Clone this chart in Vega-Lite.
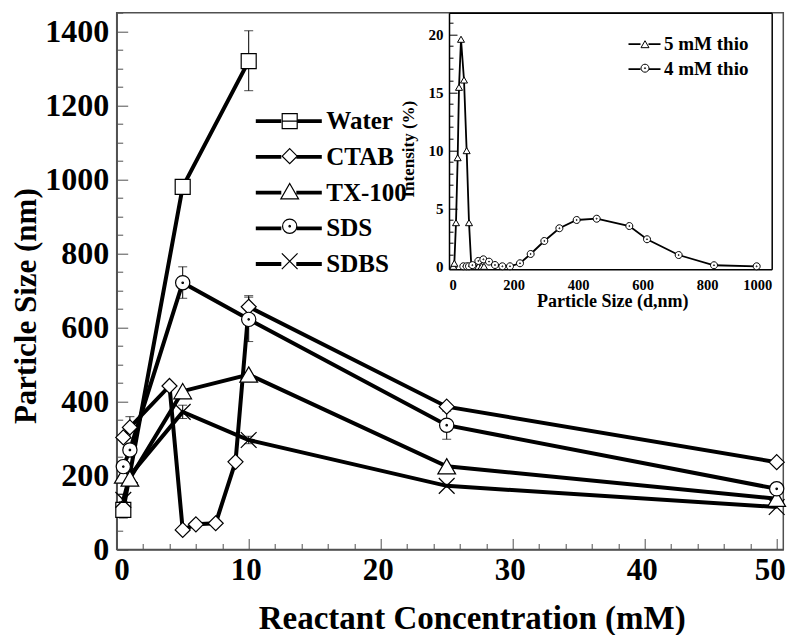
{
  "$schema": "https://vega.github.io/schema/vega-lite/v6.json",
  "width": 666.6,
  "height": 536.8,
  "autosize": {"type": "none"},
  "padding": {"left": 116.7, "top": 12.7, "right": 7.7, "bottom": 85.5},
  "background": "white",
  "config": {
    "font": "Liberation Serif",
    "view": {"stroke": "#505050", "strokeWidth": 1.5},
    "axis": {
      "grid": false,
      "labelFont": "Liberation Serif",
      "labelFontWeight": "bold",
      "labelColor": "black",
      "titleFont": "Liberation Serif",
      "titleFontWeight": "bold",
      "titleColor": "black",
      "domainColor": "#505050",
      "domainWidth": 1.5,
      "tickColor": "#505050",
      "tickWidth": 1
    },
    "legend": {
      "labelFont": "Liberation Serif",
      "labelFontWeight": "bold",
      "labelColor": "black",
      "padding": 0
    }
  },
  "datasets": {
    "main": [
      {"s": "Water", "x": 0.5, "y": 107},
      {"s": "Water", "x": 5, "y": 980},
      {"s": "Water", "x": 10, "y": 1320},
      {"s": "SDBS", "x": 0.5, "y": 134},
      {"s": "SDBS", "x": 1, "y": 200},
      {"s": "SDBS", "x": 5, "y": 372},
      {"s": "SDBS", "x": 10, "y": 296},
      {"s": "SDBS", "x": 25, "y": 172},
      {"s": "SDBS", "x": 50, "y": 115},
      {"s": "CTAB", "x": 0.5, "y": 303},
      {"s": "CTAB", "x": 1, "y": 330},
      {"s": "CTAB", "x": 4, "y": 442},
      {"s": "CTAB", "x": 5, "y": 53},
      {"s": "CTAB", "x": 6, "y": 68},
      {"s": "CTAB", "x": 7.5, "y": 71},
      {"s": "CTAB", "x": 9, "y": 237},
      {"s": "CTAB", "x": 10, "y": 656},
      {"s": "CTAB", "x": 25, "y": 386},
      {"s": "CTAB", "x": 50, "y": 236},
      {"s": "TX-100", "x": 0.5, "y": 200},
      {"s": "TX-100", "x": 1, "y": 192},
      {"s": "TX-100", "x": 5, "y": 428},
      {"s": "TX-100", "x": 10, "y": 473},
      {"s": "TX-100", "x": 25, "y": 225},
      {"s": "TX-100", "x": 50, "y": 137},
      {"s": "SDS", "x": 0.5, "y": 224},
      {"s": "SDS", "x": 1, "y": 269},
      {"s": "SDS", "x": 5, "y": 721},
      {"s": "SDS", "x": 10, "y": 622},
      {"s": "SDS", "x": 25, "y": 336},
      {"s": "SDS", "x": 50, "y": 164}
    ],
    "err": [
      {"s": "Water", "x": 0.5, "lo": 85, "hi": 129},
      {"s": "Water", "x": 5, "lo": 962, "hi": 998},
      {"s": "Water", "x": 10, "lo": 1240, "hi": 1402},
      {"s": "CTAB", "x": 1, "lo": 301, "hi": 359},
      {"s": "CTAB", "x": 10, "lo": 626, "hi": 686},
      {"s": "SDS", "x": 5, "lo": 679, "hi": 764},
      {"s": "SDS", "x": 10, "lo": 562, "hi": 682},
      {"s": "SDS", "x": 25, "lo": 298, "hi": 374},
      {"s": "SDBS", "x": 0.5, "lo": 119, "hi": 149},
      {"s": "SDBS", "x": 5, "lo": 354, "hi": 390},
      {"s": "SDBS", "x": 10, "lo": 286, "hi": 306}
    ],
    "inset": [
      {"sample": "5 mM thio", "d": 13.4, "i": 0},
      {"sample": "5 mM thio", "d": 16.5, "i": 0.26},
      {"sample": "5 mM thio", "d": 21.7, "i": 3.76},
      {"sample": "5 mM thio", "d": 26.9, "i": 9.36},
      {"sample": "5 mM thio", "d": 31.0, "i": 15.43},
      {"sample": "5 mM thio", "d": 37.2, "i": 19.57},
      {"sample": "5 mM thio", "d": 46.5, "i": 16.06},
      {"sample": "5 mM thio", "d": 54.7, "i": 9.97},
      {"sample": "5 mM thio", "d": 62.0, "i": 3.76},
      {"sample": "5 mM thio", "d": 69.2, "i": 0},
      {"sample": "5 mM thio", "d": 80.6, "i": 0},
      {"sample": "5 mM thio", "d": 90.9, "i": 0},
      {"sample": "5 mM thio", "d": 101, "i": 0},
      {"sample": "5 mM thio", "d": 108.5, "i": 0},
      {"sample": "4 mM thio", "d": 44.4, "i": 0},
      {"sample": "4 mM thio", "d": 54.7, "i": 0},
      {"sample": "4 mM thio", "d": 62.0, "i": 0},
      {"sample": "4 mM thio", "d": 72.3, "i": 0.1},
      {"sample": "4 mM thio", "d": 90.9, "i": 0.46},
      {"sample": "4 mM thio", "d": 106.4, "i": 0.6},
      {"sample": "4 mM thio", "d": 124, "i": 0.4},
      {"sample": "4 mM thio", "d": 142.5, "i": 0.11},
      {"sample": "4 mM thio", "d": 165.3, "i": 0},
      {"sample": "4 mM thio", "d": 189, "i": 0},
      {"sample": "4 mM thio", "d": 220, "i": 0.26},
      {"sample": "4 mM thio", "d": 253, "i": 1.06},
      {"sample": "4 mM thio", "d": 295.4, "i": 2.18},
      {"sample": "4 mM thio", "d": 342, "i": 3.28},
      {"sample": "4 mM thio", "d": 395.6, "i": 3.99},
      {"sample": "4 mM thio", "d": 457.6, "i": 4.1},
      {"sample": "4 mM thio", "d": 558.8, "i": 3.47},
      {"sample": "4 mM thio", "d": 613.6, "i": 2.33},
      {"sample": "4 mM thio", "d": 711.7, "i": 0.97},
      {"sample": "4 mM thio", "d": 821.2, "i": 0.09},
      {"sample": "4 mM thio", "d": 953.4, "i": 0}
    ]
  },
  "layer": [
    {
      "data": {"name": "err"},
      "mark": {"type": "errorbar", "ticks": {"size": 9, "color": "black"}, "rule": {"color": "black", "strokeWidth": 1}},
      "encoding": {
        "x": {"field": "x", "type": "quantitative", "scale": {"domain": [0, 50.5], "nice": false, "zero": false},
              "axis": {"orient": "bottom", "values": [2,4,6,8,12,14,16,18,22,24,26,28,32,34,36,38,42,44,46,48], "tickSize": -6, "labels": false, "domain": false, "title": null}},
        "y": {"field": "lo", "type": "quantitative", "scale": {"domain": [0, 1450.8], "nice": false, "zero": false},
              "axis": {"orient": "left", "values": [50,100,150,250,300,350,450,500,550,650,700,750,850,900,950,1050,1100,1150,1250,1300,1350,1450], "tickSize": -6, "labels": false, "domain": false, "title": null}},
        "y2": {"field": "hi"}
      }
    },
    {
      "data": {"name": "main"},
      "mark": {"type": "line", "strokeWidth": 4},
      "encoding": {
        "x": {"field": "x", "type": "quantitative", "scale": {"domain": [0, 50.5], "nice": false, "zero": false},
              "axis": {"orient": "bottom", "values": [0,10,20,30,40,50], "tickSize": -11, "labels": false, "domain": false, "title": null}},
        "y": {"field": "y", "type": "quantitative", "scale": {"domain": [0, 1450.8], "nice": false, "zero": false},
              "axis": {"orient": "left", "values": [0,200,400,600,800,1000,1200,1400], "tickSize": -11, "labels": false, "domain": false, "title": null}},
        "color": {"field": "s", "type": "nominal",
                  "scale": {"domain": ["Water", "CTAB", "TX-100", "SDS", "SDBS"], "range": ["black", "black", "black", "black", "black"]},
                  "legend": {"orient": "none", "legendX": 159.6, "legendY": 96, "title": null,
                             "symbolType": "M-4.4,0H-1M1,0H4.4", "symbolSize": 225, "symbolStrokeWidth": 3.8,
                             "symbolStrokeColor": "black", "labelFontSize": 25, "labelOffset": 25, "rowPadding": 9.7}}
      }
    },
    {
      "data": {"name": "main"},
      "mark": {"type": "point", "filled": false, "fill": "white", "fillOpacity": 1, "stroke": "black", "strokeWidth": 1.2, "opacity": 1, "size": 225},
      "encoding": {
        "x": {"field": "x", "type": "quantitative", "scale": {"domain": [0, 50.5], "nice": false, "zero": false},
              "axis": {"orient": "bottom", "values": [0,10,20,30,40,50], "ticks": false, "labelFontSize": 31, "labelPadding": 6, "format": "d",
                       "labelOffset": {"condition": {"test": "datum.value === 50", "value": -7}, "value": -3},
                       "title": "Reactant Concentration (mM)", "titleFontSize": 33, "titleBaseline": "alphabetic", "titleX": 355, "titleY": 78.5}},
        "y": {"field": "y", "type": "quantitative", "scale": {"domain": [0, 1450.8], "nice": false, "zero": false},
              "axis": {"orient": "left", "values": [0,200,400,600,800,1000,1200,1400], "ticks": false, "labelFontSize": 32, "labelPadding": 8, "format": "d",
                       "title": "Particle Size (nm)", "titleFontSize": 31, "titleBaseline": "alphabetic", "titleAngle": -90, "titleX": -81, "titleY": 293}},
        "shape": {"field": "s", "type": "nominal",
                  "scale": {"domain": ["SDBS", "SDS", "TX-100", "CTAB", "Water"],
                            "range": ["M-1.05,-1.05L1.05,1.05M-1.05,1.05L1.05,-1.05",
                                      "M0.95,0A0.95,0.95 0 1,1 -0.95,0A0.95,0.95 0 1,1 0.95,0Z M0.1,0A0.1,0.1 0 1,1 -0.1,0A0.1,0.1 0 1,1 0.1,0Z",
                                      "M0,-1.02L1.18,1.02L-1.18,1.02Z",
                                      "M0,-1L1,0L0,1L-1,0Z",
                                      "M-1,-1L1,-1L1,1L-1,1Z"]},
                  "legend": null}
      }
    },
    {
      "data": {"name": "main"}, "transform": [{"filter": "false"}],
      "mark": {"type": "line"},
      "encoding": {
        "x": {"field": "x", "type": "quantitative", "axis": null}, "y": {"field": "y", "type": "quantitative", "axis": null},
        "color": {"field": "s", "type": "nominal", "scale": {"domain": ["Water"], "range": ["black"]},
                  "legend": {"orient": "none", "legendX": 160.5, "legendY": 96, "title": null, "symbolType": "M-1,-1L1,-1L1,1L-1,1Z M-1,0H1",
                             "symbolSize": 225, "symbolStrokeWidth": 1.2, "symbolStrokeColor": "black", "symbolFillColor": "white",
                             "labelFontSize": 25, "labelOffset": 25, "labelExpr": "''"}}
      }
    },
    {
      "data": {"name": "main"}, "transform": [{"filter": "false"}],
      "mark": {"type": "line"},
      "encoding": {
        "x": {"field": "x", "type": "quantitative", "axis": null}, "y": {"field": "y", "type": "quantitative", "axis": null},
        "color": {"field": "s", "type": "nominal", "scale": {"domain": ["CTAB"], "range": ["black"]},
                  "legend": {"orient": "none", "legendX": 160.5, "legendY": 131, "title": null, "symbolType": "M0,-1L1,0L0,1L-1,0Z",
                             "symbolSize": 225, "symbolStrokeWidth": 1.2, "symbolStrokeColor": "black", "symbolFillColor": "white",
                             "labelFontSize": 25, "labelOffset": 25, "labelExpr": "''"}}
      }
    },
    {
      "data": {"name": "main"}, "transform": [{"filter": "false"}],
      "mark": {"type": "line"},
      "encoding": {
        "x": {"field": "x", "type": "quantitative", "axis": null}, "y": {"field": "y", "type": "quantitative", "axis": null},
        "color": {"field": "s", "type": "nominal", "scale": {"domain": ["TX-100"], "range": ["black"]},
                  "legend": {"orient": "none", "legendX": 160.5, "legendY": 166, "title": null, "symbolType": "M0,-1.02L1.18,1.02L-1.18,1.02Z",
                             "symbolSize": 225, "symbolStrokeWidth": 1.2, "symbolStrokeColor": "black", "symbolFillColor": "white",
                             "labelFontSize": 25, "labelOffset": 25, "labelExpr": "''"}}
      }
    },
    {
      "data": {"name": "main"}, "transform": [{"filter": "false"}],
      "mark": {"type": "line"},
      "encoding": {
        "x": {"field": "x", "type": "quantitative", "axis": null}, "y": {"field": "y", "type": "quantitative", "axis": null},
        "color": {"field": "s", "type": "nominal", "scale": {"domain": ["SDS"], "range": ["black"]},
                  "legend": {"orient": "none", "legendX": 160.5, "legendY": 201, "title": null,
                             "symbolType": "M0.95,0A0.95,0.95 0 1,1 -0.95,0A0.95,0.95 0 1,1 0.95,0Z M0.1,0A0.1,0.1 0 1,1 -0.1,0A0.1,0.1 0 1,1 0.1,0Z",
                             "symbolSize": 225, "symbolStrokeWidth": 1.2, "symbolStrokeColor": "black", "symbolFillColor": "white",
                             "labelFontSize": 25, "labelOffset": 25, "labelExpr": "''"}}
      }
    },
    {
      "data": {"name": "main"}, "transform": [{"filter": "false"}],
      "mark": {"type": "line"},
      "encoding": {
        "x": {"field": "x", "type": "quantitative", "axis": null}, "y": {"field": "y", "type": "quantitative", "axis": null},
        "color": {"field": "s", "type": "nominal", "scale": {"domain": ["SDBS"], "range": ["black"]},
                  "legend": {"orient": "none", "legendX": 160.5, "legendY": 236, "title": null, "symbolType": "M-1.05,-1.05L1.05,1.05M-1.05,1.05L1.05,-1.05",
                             "symbolSize": 225, "symbolStrokeWidth": 1.2, "symbolStrokeColor": "black", "symbolFillColor": "white",
                             "labelFontSize": 25, "labelOffset": 25, "labelExpr": "''"}}
      }
    },
    {
      "data": {"name": "inset"},
      "mark": {"type": "line", "strokeWidth": 1.8},
      "encoding": {
        "x": {"field": "d", "type": "quantitative", "scale": {"domain": [0, 1000], "range": [332.3, 655], "nice": false, "zero": false},
              "axis": {"orient": "bottom", "offset": -280.2, "values": [0,200,400,600,800,1000], "ticks": false, "labelFontSize": 14.5, "labelPadding": 9, "format": "d",
                       "domainColor": "black", "domainWidth": 1.5,
                       "title": "Particle Size (d,nm)", "titleFontSize": 18, "titleBaseline": "alphabetic", "titleX": 495.6, "titleY": 37.5}},
        "y": {"field": "i", "type": "quantitative", "scale": {"domain": [-0.26, 21.86], "range": [256.6, 0], "nice": false, "zero": false},
              "axis": {"orient": "left", "offset": -332.3, "values": [0,5,10,15,20], "ticks": false, "labelFontSize": 15, "labelPadding": 6,
                       "domainColor": "black", "domainWidth": 1.5,
                       "title": "Intensity (%)", "titleFontSize": 17, "titleBaseline": "alphabetic", "titleAngle": -90, "titleX": -36, "titleY": 136}},
        "color": {"field": "sample", "type": "nominal",
                  "scale": {"domain": ["5 mM thio", "4 mM thio"], "range": ["black", "black"]},
                  "legend": {"orient": "none", "legendX": 518.3, "legendY": 22, "title": null,
                             "symbolType": "M-4,0H-1M1,0H4", "symbolSize": 64, "symbolStrokeWidth": 1.8, "symbolStrokeColor": "black",
                             "labelFontSize": 19, "labelOffset": 10, "rowPadding": 5}}
      }
    },
    {
      "data": {"name": "inset"},
      "mark": {"type": "point", "filled": false, "fill": "white", "fillOpacity": 1, "stroke": "black", "strokeWidth": 1, "size": 49, "opacity": 1},
      "encoding": {
        "x": {"field": "d", "type": "quantitative", "scale": {"domain": [0, 1000], "range": [332.3, 655], "nice": false, "zero": false},
              "axis": {"orient": "top", "offset": 0, "ticks": false, "labels": false, "domainColor": "black", "domainWidth": 1.5, "title": null}},
        "y": {"field": "i", "type": "quantitative", "scale": {"domain": [-0.26, 21.86], "range": [256.6, 0], "nice": false, "zero": false},
              "axis": {"orient": "right", "offset": -11.6, "ticks": false, "labels": false, "domainColor": "black", "domainWidth": 1.5, "title": null}},
        "shape": {"field": "sample", "type": "nominal",
                  "scale": {"domain": ["4 mM thio", "5 mM thio"],
                            "range": ["M1,0A1,1 0 1,1 -1,0A1,1 0 1,1 1,0Z M0.15,0A0.15,0.15 0 1,1 -0.15,0A0.15,0.15 0 1,1 0.15,0Z", "M0,-0.87L1,0.87L-1,0.87Z"]},
                  "legend": null}
      }
    },
    {
      "data": {"name": "inset"}, "transform": [{"filter": "false"}],
      "mark": {"type": "line"},
      "encoding": {
        "x": {"field": "d", "type": "quantitative", "axis": null}, "y": {"field": "i", "type": "quantitative", "axis": null},
        "color": {"field": "sample", "type": "nominal", "scale": {"domain": ["5 mM thio"], "range": ["black"]},
                  "legend": {"orient": "none", "legendX": 518.8, "legendY": 22, "title": null, "symbolType": "M0,-0.87L1,0.87L-1,0.87Z",
                             "symbolSize": 64, "symbolStrokeWidth": 1, "symbolStrokeColor": "black", "symbolFillColor": "white",
                             "labelFontSize": 19, "labelOffset": 10, "labelExpr": "''"}}
      }
    },
    {
      "data": {"name": "inset"}, "transform": [{"filter": "false"}],
      "mark": {"type": "line"},
      "encoding": {
        "x": {"field": "d", "type": "quantitative", "axis": null}, "y": {"field": "i", "type": "quantitative", "axis": null},
        "color": {"field": "sample", "type": "nominal", "scale": {"domain": ["4 mM thio"], "range": ["black"]},
                  "legend": {"orient": "none", "legendX": 518.8, "legendY": 46, "title": null,
                             "symbolType": "M1,0A1,1 0 1,1 -1,0A1,1 0 1,1 1,0Z M0.15,0A0.15,0.15 0 1,1 -0.15,0A0.15,0.15 0 1,1 0.15,0Z",
                             "symbolSize": 64, "symbolStrokeWidth": 1, "symbolStrokeColor": "black", "symbolFillColor": "white",
                             "labelFontSize": 19, "labelOffset": 10, "labelExpr": "''"}}
      }
    },
    {
      "data": {"name": "inset"},
      "mark": {"type": "point", "opacity": 0},
      "encoding": {
        "x": {"field": "d", "type": "quantitative", "scale": {"domain": [0, 1000], "range": [332.3, 655], "nice": false, "zero": false}, "axis": null},
        "y": {"field": "i", "type": "quantitative", "scale": {"domain": [-0.26, 21.86], "range": [256.6, 0], "nice": false, "zero": false},
              "axis": {"orient": "left", "offset": -332.3, "values": [1,2,3,4,6,7,8,9,11,12,13,14,16,17,18,19,21], "tickSize": -4, "tickColor": "black", "labels": false, "domain": false, "title": null}}
      }
    },
    {
      "data": {"name": "inset"},
      "mark": {"type": "point", "opacity": 0},
      "encoding": {
        "x": {"field": "d", "type": "quantitative", "scale": {"domain": [0, 1000], "range": [332.3, 655], "nice": false, "zero": false}, "axis": null},
        "y": {"field": "i", "type": "quantitative", "scale": {"domain": [-0.26, 21.86], "range": [256.6, 0], "nice": false, "zero": false},
              "axis": {"orient": "left", "offset": -332.3, "values": [0,5,10,15,20], "tickSize": -8, "tickColor": "black", "labels": false, "domain": false, "title": null}}
      }
    }
  ],
  "resolve": {"scale": {"x": "independent", "y": "independent", "color": "independent", "shape": "independent"}}
}
